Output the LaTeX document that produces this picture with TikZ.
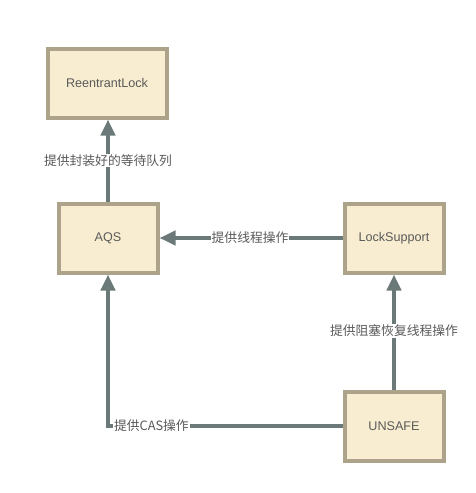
\documentclass[tikz,border=0pt]{standalone}
\usepackage{fontspec}
\setmainfont{Liberation Sans}
\newfontfamily\cjk{Noto Sans CJK SC}
\usetikzlibrary{positioning, arrows.meta}
\definecolor{boxfill}{HTML}{F8EDD0}
\definecolor{boxline}{HTML}{ADA38A}
\definecolor{linkgray}{HTML}{6B7A78}
\definecolor{textgray}{HTML}{5A5A5A}

\begin{document}
\begin{tikzpicture}[
    x=1pt, y=-1pt,
    font=\fontsize{12.6}{14}\selectfont,
    box/.style={draw=boxline, line width=4pt, fill=boxfill, minimum width=99pt, minimum height=69pt, align=center, text=textgray},
    arrow/.style={-{Triangle[length=16pt,width=14pt]}, line width=4pt, draw=linkgray},
    tag/.style={fill=white, inner sep=1pt, text=textgray, font=\cjk\fontsize{12.8}{14}\selectfont}
]
\useasboundingbox (0,0) rectangle (476,493);
% Nodes
\node[box, minimum width=119pt] (lock) at (107,83) {ReentrantLock};
\node[box] (aqs) at (108,238) {AQS};
\node[box] (support) at (394,238) {LockSupport};
\node[box] (unsafe) at (394,426) {UNSAFE};

% Edges
\draw[arrow] (aqs.north) -- (aqs.north |- lock.south) node[tag, pos=0.5] {提供封装好的等待队列};
\draw[arrow] (support) -- (aqs) node[tag, pos=0.505] {提供线程操作};
\draw[arrow] (unsafe) -- (support) node[tag, pos=0.51] {提供阻塞恢复线程操作};
\draw[arrow] (unsafe.west) -| (aqs.south) node[tag, pos=0.5, anchor=west, xshift=3pt] {提供CAS操作};
\end{tikzpicture}
\end{document}
